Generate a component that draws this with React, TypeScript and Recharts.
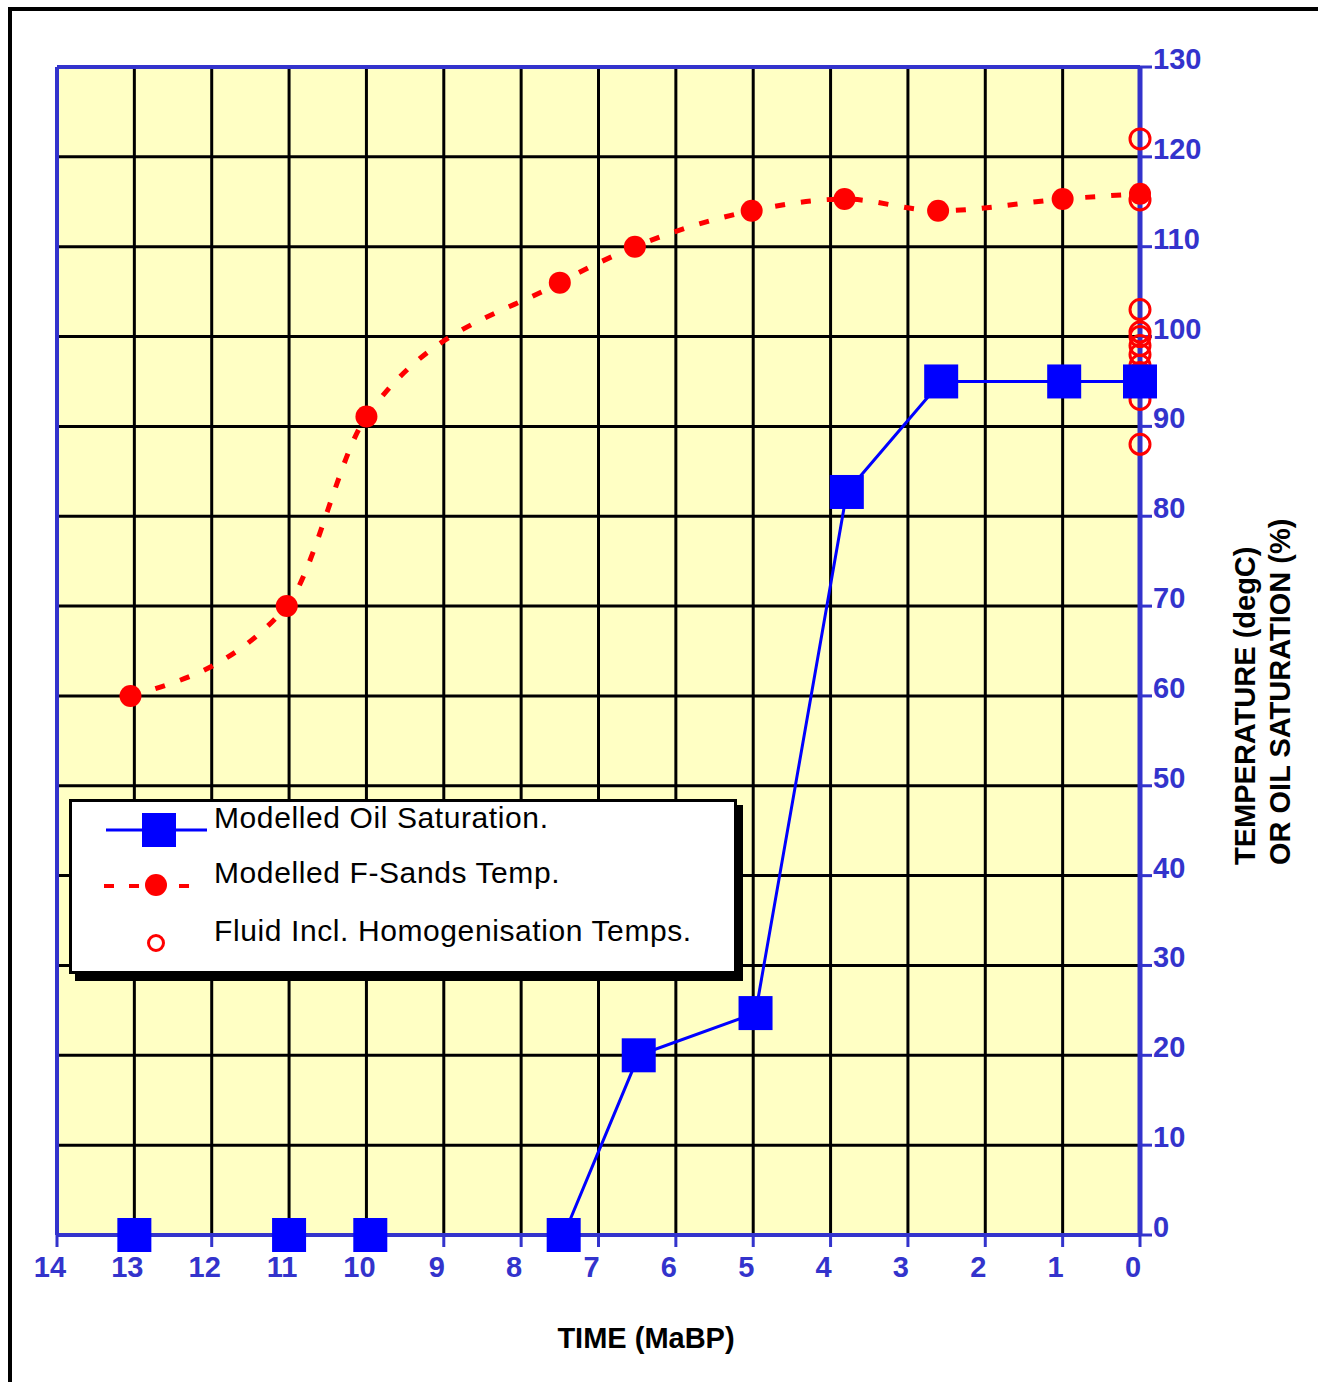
import React from "react";
import {
  ComposedChart,
  Line,
  Scatter,
  XAxis,
  YAxis,
  CartesianGrid,
  ReferenceLine,
  Legend,
} from "recharts";

const ageTicks = [0, 1, 2, 3, 4, 5, 6, 7, 8, 9, 10, 11, 12, 13, 14];
const valueTicks = [0, 10, 20, 30, 40, 50, 60, 70, 80, 90, 100, 110, 120, 130];

// Modelled oil saturation (%)
const oilAge = [13, 11, 9.95, 7.45, 6.48, 4.97, 3.79, 2.57, 0.98, 0];
const oilSaturation = [0, 0, 0, 0, 20, 24.7, 82.7, 95, 95, 95];

// Modelled F-Sands temperature (degC)
const tempAge = [13.05, 11.03, 10, 7.5, 6.53, 5.02, 3.82, 2.61, 1, 0];
const tempValue = [60, 70, 91.1, 106, 110, 114, 115.3, 114, 115.3, 115.9];

// Fluid inclusion homogenisation temps, all at present day
const fluidAge = 0;
const fluidTemps = [122, 115.2, 103, 100.5, 100, 99, 98, 96.8, 96, 93, 88];

const oilData = oilAge.map((t, i) => ({ t, v: oilSaturation[i] }));
const tempData = tempAge.map((t, i) => ({ t, v: tempValue[i] }));
const fluidData = fluidTemps.map((v) => ({ t: fluidAge, v }));

const AXIS_BLUE = "#3333CC";
const FONT = "'Liberation Sans', Arial, Helvetica, sans-serif";

const AgeTick = ({ x, y, payload }: any) => (
  <text
    x={x - 7}
    y={y + 28}
    textAnchor="middle"
    fill={AXIS_BLUE}
    fontSize={29}
    fontWeight="bold"
    fontFamily={FONT}
  >
    {payload.value}
  </text>
);

const ValueTick = ({ x, y, payload }: any) => (
  <text
    x={x}
    y={y + 2}
    textAnchor="start"
    fill={AXIS_BLUE}
    fontSize={29}
    fontWeight="bold"
    fontFamily={FONT}
  >
    {payload.value}
  </text>
);

const squareDot = (props: any) => (
  <rect
    key={`sq-${props.index}`}
    x={props.cx - 17}
    y={props.cy - 17}
    width={34}
    height={34}
    fill="#0000FF"
  />
);

const roundDot = (props: any) => (
  <circle key={`rd-${props.index}`} cx={props.cx} cy={props.cy} r={11} fill="#FF0000" />
);

const openCircle = (props: any) => (
  <circle cx={props.cx} cy={props.cy} r={10} fill="none" stroke="#FF0000" strokeWidth={3} />
);

const legendLabels = [
  "Modelled Oil Saturation.",
  "Modelled F-Sands Temp.",
  "Fluid Incl. Homogenisation Temps.",
];

const renderLegend = () => (
  <svg width={676} height={184} style={{ display: "block" }}>
    <rect x={6} y={6} width={668} height={176} fill="#000" />
    <rect x={1.5} y={1.5} width={665} height={172} fill="#fff" stroke="#000" strokeWidth={3} />
    <line x1={37} x2={138} y1={31} y2={31} stroke="#0000FF" strokeWidth={3} />
    <rect x={73} y={14} width={34} height={34} fill="#0000FF" />
    <line x1={35} x2={135} y1={87} y2={87} stroke="#FF0000" strokeWidth={4} strokeDasharray="10 15" />
    <circle cx={87} cy={86} r={11} fill="#FF0000" />
    <circle cx={87} cy={144} r={7.5} fill="none" stroke="#FF0000" strokeWidth={3} />
    {legendLabels.map((label, i) => (
      <text
        key={label}
        x={145}
        y={[29, 84, 142][i]}
        fontSize={30}
        letterSpacing={0.6}
        fontFamily={FONT}
        fill="#000"
      >
        {label}
      </text>
    ))}
  </svg>
);

export default function App() {
  return (
    <div style={{ position: "absolute", left: 0, top: 0, width: 1318, height: 1382, overflow: "hidden", background: "#fff" }}>
      <ComposedChart width={1318} height={1382} margin={{ top: 67, right: 0, bottom: 0, left: 57 }}>
        <CartesianGrid stroke="#000" strokeWidth={3} fill="#FFFFC4" fillOpacity={1} />
        <XAxis
          type="number"
          dataKey="t"
          domain={[0, 14]}
          ticks={ageTicks}
          reversed
          height={147}
          axisLine={{ stroke: AXIS_BLUE, strokeWidth: 4 }}
          tickLine={{ stroke: AXIS_BLUE, strokeWidth: 3 }}
          tickSize={12}
          tickMargin={2}
          tick={<AgeTick />}
          interval={0}
        />
        <YAxis
          type="number"
          orientation="right"
          domain={[0, 130]}
          ticks={valueTicks}
          width={178}
          axisLine={{ stroke: AXIS_BLUE, strokeWidth: 5 }}
          tickLine={{ stroke: AXIS_BLUE, strokeWidth: 3 }}
          tickSize={12}
          tickMargin={1}
          tick={<ValueTick />}
          interval={0}
        />
        <ReferenceLine y={130} stroke={AXIS_BLUE} strokeWidth={4} />
        <ReferenceLine x={14} stroke={AXIS_BLUE} strokeWidth={4} />
        <Line
          data={oilData}
          dataKey="v"
          type="linear"
          stroke="#0000FF"
          strokeWidth={3}
          dot={squareDot}
          activeDot={false}
          isAnimationActive={false}
        />
        <Line
          data={tempData}
          dataKey="v"
          type="monotone"
          stroke="#FF0000"
          strokeWidth={5}
          strokeDasharray="10 16"
          dot={roundDot}
          activeDot={false}
          isAnimationActive={false}
        />
        <Scatter data={fluidData} dataKey="v" shape={openCircle} isAnimationActive={false} />
        <Legend
          layout="vertical"
          align="center"
          verticalAlign="middle"
          content={renderLegend}
          wrapperStyle={{ left: 69, top: 799, width: 676, height: 184 }}
        />
      </ComposedChart>
      <svg
        width={1318}
        height={1382}
        style={{ position: "absolute", left: 0, top: 0, pointerEvents: "none" }}
      >
        <path d="M 10 1382 L 10 9 L 1318 9" fill="none" stroke="#000" strokeWidth={4} />
        <text x={646} y={1348} textAnchor="middle" fontSize={29} fontWeight="bold" fontFamily={FONT} fill="#000">
          TIME (MaBP)
        </text>
        <g transform="translate(1255,865) rotate(-90)">
          <text x={0} y={0} fontSize={29} fontWeight="bold" fontFamily={FONT} fill="#000">
            TEMPERATURE (degC)
          </text>
          <text x={0} y={35} fontSize={29} fontWeight="bold" fontFamily={FONT} fill="#000">
            OR OIL SATURATION (%)
          </text>
        </g>
      </svg>
    </div>
  );
}
